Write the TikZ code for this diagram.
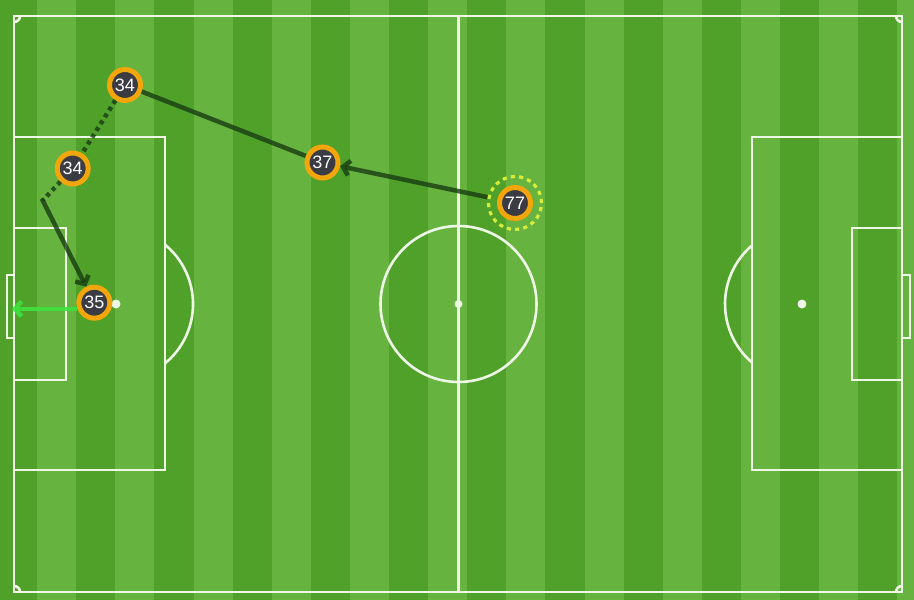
\documentclass[tikz,border=0pt]{standalone}
\usepackage{fontspec}
\setmainfont{Liberation Sans}
\usetikzlibrary{arrows.meta}
\definecolor{grassdark}{HTML}{4FA12A}
\definecolor{grasslight}{HTML}{66B340}
\definecolor{pitchline}{HTML}{EEF7E6}
\definecolor{ringorange}{HTML}{F2A60C}
\definecolor{discfill}{HTML}{3B3B43}
\definecolor{passgreen}{HTML}{193C12}
\definecolor{shotgreen}{HTML}{3DE23D}
\definecolor{hiyellow}{HTML}{D6EC3A}
\begin{document}
\begin{tikzpicture}[x=1pt,y=-1pt,
  pitch/.style={draw=pitchline,line width=2.6pt},
  spot/.style={fill=pitchline},
  player/.style={circle,fill=discfill,draw=ringorange,line width=5pt,minimum size=31pt,
    inner sep=0pt,outer sep=2.5pt,text=white,font=\fontsize{18}{18}\selectfont},
  hiring/.style={circle,draw=hiyellow,line width=3.2pt,minimum size=53pt,inner sep=0pt,
    outer sep=1.6pt,dash pattern=on 4.16pt off 4.16pt},
  pass/.style={draw=passgreen,draw opacity=0.8,line width=4.5pt},
  passarrow/.style={pass,-{Straight Barb[length=6.5pt,width=15pt]}},
  carry/.style={draw=passgreen,draw opacity=0.8,line width=4.5pt,dash pattern=on 4pt off 4pt},
  shot/.style={draw=shotgreen,draw opacity=0.9,line width=4.5pt,-{Straight Barb[length=6.5pt,width=15pt]}}
]
\useasboundingbox (0,0) rectangle (914,600);
% grass stripes
\fill[grasslight] (0,0) rectangle (914,600);
\foreach \i in {0,2,...,22}{
  \fill[grassdark] ({-2+39.1*\i},0) rectangle ({-2+39.1*(\i+1)},600);
}
% pitch markings
\draw[pitch] (14,16) rectangle (902,592);
\draw[pitch] (458.5,16) -- (458.5,592);
\draw[pitch] (458.5,304) circle[radius=78];
\fill[spot] (458.5,304) circle[radius=4];
% left end
\draw[pitch] (14,137) rectangle (165,470);
\draw[pitch] (14,228) rectangle (66,380);
\draw[pitch] (7,275) rectangle (14,338);
\fill[spot] (116,304) circle[radius=4.5];
\draw[pitch] (165,244.6) arc[start angle=-50.5,end angle=50.5,radius=77];
% right end
\draw[pitch] (752,137) rectangle (902,470);
\draw[pitch] (852,228) rectangle (902,380);
\draw[pitch] (902,275) rectangle (910,338);
\fill[spot] (802,304) circle[radius=4.5];
\draw[pitch] (752,245.4) arc[start angle=229.5,end angle=130.5,radius=77];
% corner arcs
\draw[pitch] (20,16) arc[start angle=0,end angle=90,radius=6];
\draw[pitch] (896,16) arc[start angle=180,end angle=90,radius=6];
\draw[pitch] (20,592) arc[start angle=0,end angle=-90,radius=6];
\draw[pitch] (896,592) arc[start angle=180,end angle=270,radius=6];
% players
\node[player] (p34a) at (125,85) {34};
\node[player] (p34b) at (72.7,168.5) {34};
\node[player] (p37) at (322.5,162.5) {37};
\node[player] (p77) at (515,203) {77};
\node[player] (p35) at (94.3,302.7) {35};
\node[hiring] (r77) at (515,203) {};
\coordinate (c1) at (42.7,200.5);
\coordinate (gend) at (12,0);
% actions
\draw[passarrow] (r77) -- (p37);
\draw[pass] (p37) -- (p34a);
\draw[carry] (p34a) -- (p34b);
\draw[carry] (p34b) -- (c1);
\draw[passarrow,shorten <=-2pt] (c1) -- (p35);
\draw[shot] (p35.200) -- (p35.200 -| gend);
\end{tikzpicture}
\end{document}
